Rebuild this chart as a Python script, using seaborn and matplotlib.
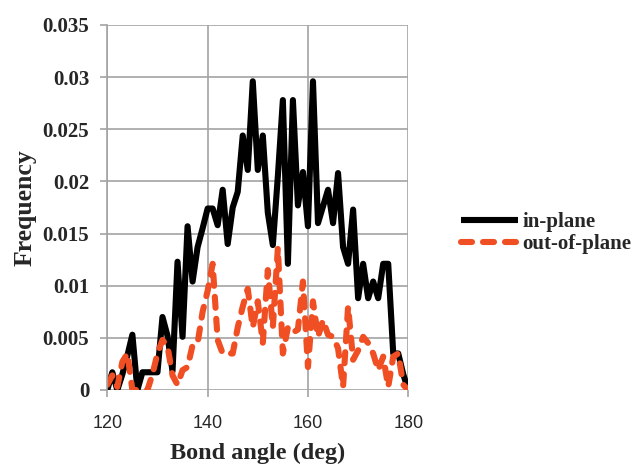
import numpy as np
import pandas as pd
import matplotlib
matplotlib.use("Agg")
import matplotlib.pyplot as plt
import seaborn as sns

# Bond angle bins (deg)
angles = list(range(120, 181))

# Frequency of each bond angle for bonds lying in the plane
in_plane = [
    0.0, 0.0017, 0.0, 0.0015, 0.0033, 0.0053, 0.0, 0.0017, 0.0017, 0.0017,
    0.0017, 0.0070, 0.0052, 0.0018, 0.0123, 0.0051, 0.0157, 0.0104, 0.0137, 0.0155,
    0.0174, 0.0174, 0.0158, 0.0192, 0.0140, 0.0175, 0.0190, 0.0244, 0.0211, 0.0296,
    0.0211, 0.0244, 0.0170, 0.0139, 0.0205, 0.0278, 0.0121, 0.0278, 0.0177, 0.0209,
    0.0157, 0.0296, 0.0160, 0.0176, 0.0192, 0.0160, 0.0208, 0.0137, 0.0121, 0.0173,
    0.0088, 0.0121, 0.0088, 0.0104, 0.0088, 0.0121, 0.0121, 0.0035, 0.0035, 0.0015,
    0.0,
]

# Frequency of each bond angle for bonds pointing out of the plane
out_of_plane = [
    0.0005, 0.0014, 0.0003, 0.0027, 0.0035, 0.0, 0.0, 0.0, 0.0, 0.0015,
    0.0035, 0.0048, 0.0042, 0.0014, 0.0005, 0.0019, 0.0022, 0.0043, 0.0045, 0.0075,
    0.0095, 0.0121, 0.0048, 0.0035, 0.0035, 0.0035, 0.0060, 0.0080, 0.0097, 0.0060,
    0.0085, 0.0045, 0.0115, 0.0060, 0.0136, 0.0035, 0.0060, 0.0055, 0.0058, 0.0104,
    0.0022, 0.0085, 0.0051, 0.0067, 0.0053, 0.0051, 0.0040, 0.0003, 0.0080, 0.0029,
    0.0038, 0.0051, 0.0045, 0.0035, 0.0019, 0.0032, 0.0003, 0.0032, 0.0035, 0.0005,
    0.0,
]

series_names = ["in-plane", "out-of-plane"]
x_ticks = [120, 140, 160, 180]
y_ticks = [0, 0.005, 0.01, 0.015, 0.02, 0.025, 0.03, 0.035]
y_tick_labels = ["0", "0.005", "0.01", "0.015", "0.02", "0.025", "0.03", "0.035"]

df = pd.DataFrame({
    "angle": angles * 2,
    "freq": in_plane + out_of_plane,
    "kind": [series_names[0]] * len(angles) + [series_names[1]] * len(angles),
})

sns.set_theme(style="white")
serif = ["Liberation Serif", "DejaVu Serif"]
sans = ["Liberation Sans", "DejaVu Sans"]

black = "#000000"
orange = "#f04e23"
dash_pattern = (1.8, 1.8)
line_w = 4.4

fig = plt.figure(figsize=(6.33, 4.65), dpi=100)
ax = fig.add_axes([0.1695, 0.1613, 0.4755, 0.785])

grid_color = "#a3a3a3"

sns.lineplot(
    data=df, x="angle", y="freq", hue="kind", style="kind",
    palette={series_names[0]: black, series_names[1]: orange},
    dashes={series_names[0]: "", series_names[1]: dash_pattern},
    linewidth=line_w, ax=ax, legend=False,
)
for line in ax.get_lines():
    line.set_dash_capstyle("round")
    line.set_solid_joinstyle("round")
    line.set_dash_joinstyle("round")
    line.set_solid_capstyle("round")

ax.set_xlim(120, 180)
ax.set_ylim(0, 0.035)
ax.set_xticks(x_ticks)
ax.set_xticklabels([str(t) for t in x_ticks], fontfamily=sans, fontsize=13)
ax.set_yticks(y_ticks)
ax.set_yticklabels(y_tick_labels, fontfamily=serif, fontweight="bold", fontsize=15)

ax.grid(True, color=grid_color, linewidth=1.2)
ax.set_axisbelow(True)
for side in ["top", "right", "bottom"]:
    ax.spines[side].set_visible(False)
ax.spines["left"].set_color(grid_color)
ax.spines["left"].set_linewidth(1.2)
ax.tick_params(axis="both", which="major", length=5, width=1.2, color=grid_color,
               direction="out", left=True, bottom=True)
ax.tick_params(axis="y", pad=8)
ax.tick_params(axis="x", pad=13)

ax.set_xlabel("Bond angle (deg)", fontfamily=serif, fontweight="bold", fontsize=17.5,
              labelpad=8)
ax.set_ylabel("Frequency", fontfamily=serif, fontweight="bold", fontsize=18.5,
              labelpad=4)

# Legend to the right of the plotting area
handles = [
    plt.Line2D([], [], color=black, linewidth=line_w, solid_capstyle="butt"),
    plt.Line2D([], [], color=orange, linewidth=line_w, linestyle=(0, dash_pattern),
               dash_capstyle="round"),
]
leg = fig.legend(
    handles, series_names, loc="center left", bbox_to_anchor=(0.728, 0.498),
    frameon=False, handlelength=2.75, handletextpad=0.2, labelspacing=0.1,
    borderpad=0, borderaxespad=0,
    prop={"family": serif, "weight": "bold", "size": 15},
)

fig.savefig("out.png", dpi=100)
